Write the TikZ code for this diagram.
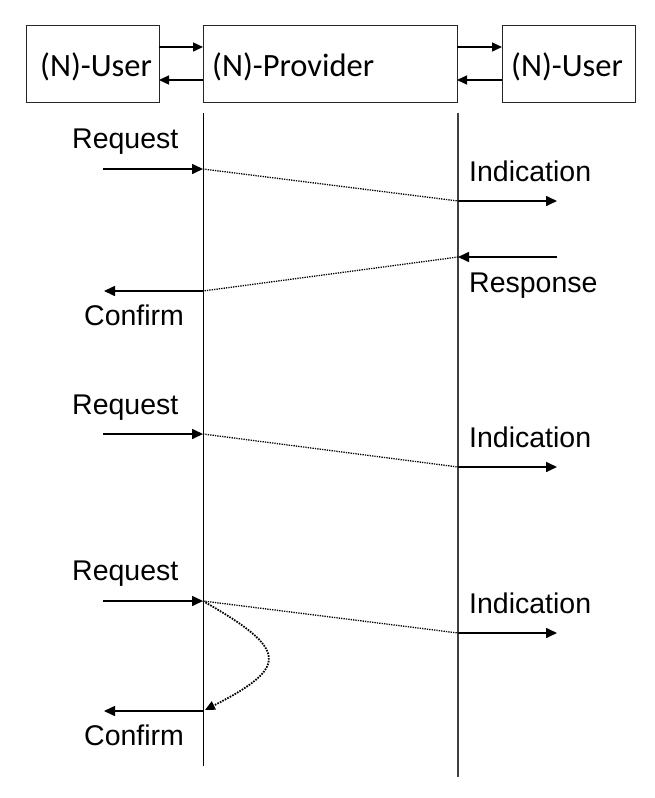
\documentclass[tikz,border=0pt]{standalone}
\usepackage{fontspec}
\setmainfont{Liberation Sans}
\newfontfamily\boxfont{Carlito}
\usetikzlibrary{arrows.meta}
\begin{document}
\begin{tikzpicture}[x=1pt,y=-1pt,
  box/.style={draw=black!85, line width=1.2pt, inner sep=0pt, anchor=north west, minimum height=77pt},
  msg/.style={line width=1.6pt, -{Triangle[length=11pt,width=10pt]}},
  ifc/.style={line width=1.4pt, -{Triangle[length=10pt,width=9pt]}},
  dots/.style={line width=1.3pt, dash pattern=on 1.3pt off 1.1pt},
  curvedots/.style={line width=1.8pt, dash pattern=on 1.6pt off 1.2pt, -{Triangle[length=10pt,width=9pt]}},
  lbl/.style={font=\fontsize{28.5}{34}\selectfont, inner sep=0pt, anchor=base west},
  blbl/.style={font=\boxfont\fontsize{32.5}{38}\selectfont, inner sep=0pt, anchor=base west},
  lifeA/.style={line width=1pt, draw=black},
  lifeB/.style={line width=2pt, draw=black!75},
]
\useasboundingbox (0,0) rectangle (655,798);
\fill[white] (0,0) rectangle (655,798);

% boxes
\node[box, minimum width=133pt] (u1) at (26,25) {};
\node[box, minimum width=254pt] (prov) at (203,25) {};
\node[box, minimum width=133pt] (u2) at (502,25) {};
\node[blbl] (u1t) at (40,76) {(N)-User};
\node[blbl] (provt) at (212,76) {(N)-Provider};
\node[blbl] (u2t) at (511,76) {(N)-User};

% interface arrows
\coordinate (a1s) at (159,47); \coordinate (a1e) at (203,47);
\coordinate (a2s) at (203,80); \coordinate (a2e) at (159,80);
\coordinate (a3s) at (457,47); \coordinate (a3e) at (502,47);
\coordinate (a4s) at (502,80); \coordinate (a4e) at (457,80);
\draw[ifc] (a1s) -- (a1e);
\draw[ifc] (a2s) -- (a2e);
\draw[ifc] (a3s) -- (a3e);
\draw[ifc] (a4s) -- (a4e);

% lifelines
\coordinate (LAt) at (203,113); \coordinate (LAb) at (203,766);
\coordinate (LBt) at (458,113); \coordinate (LBb) at (458,777);
\draw[lifeA] (LAt) -- (LAb);
\draw[lifeB] (LBt) -- (LBb);

% section 1
\coordinate (r1s) at (103,169); \coordinate (r1e) at (203,169);
\coordinate (i1s) at (458,201); \coordinate (i1e) at (557,201);
\coordinate (p1s) at (557,257); \coordinate (p1e) at (458,257);
\coordinate (c1s) at (203,291); \coordinate (c1e) at (104,291);
\draw[msg] (r1s) -- (r1e);
\draw[dots] (r1e) -- (i1s);
\draw[msg] (i1s) -- (i1e);
\draw[msg] (p1s) -- (p1e);
\draw[dots] (p1e) -- (c1s);
\draw[msg] (c1s) -- (c1e);
\node[lbl] (req1) at (72,148) {Request};
\node[lbl] (ind1) at (469,181) {Indication};
\node[lbl] (resp) at (469,292) {Response};
\node[lbl] (conf1) at (84,325) {Confirm};

% section 2
\coordinate (r2s) at (103,434); \coordinate (r2e) at (203,434);
\coordinate (i2s) at (458,467); \coordinate (i2e) at (557,467);
\draw[msg] (r2s) -- (r2e);
\draw[dots] (r2e) -- (i2s);
\draw[msg] (i2s) -- (i2e);
\node[lbl] (req2) at (72,414) {Request};
\node[lbl] (ind2) at (469,447) {Indication};

% section 3
\coordinate (r3s) at (103,601); \coordinate (r3e) at (203,601);
\coordinate (i3s) at (458,633); \coordinate (i3e) at (557,633);
\coordinate (c3s) at (203,711); \coordinate (c3e) at (104,711);
\coordinate (c3tip) at (205,710);
\draw[msg] (r3s) -- (r3e);
\draw[dots] (r3e) -- (i3s);
\draw[msg] (i3s) -- (i3e);
\draw[curvedots] (r3e) .. controls (289,650) and (289,667) .. (c3tip);
\draw[msg] (c3s) -- (c3e);
\node[lbl] (req3) at (72,580) {Request};
\node[lbl] (ind3) at (469,613) {Indication};
\node[lbl] (conf3) at (84,745) {Confirm};
\end{tikzpicture}
\end{document}
